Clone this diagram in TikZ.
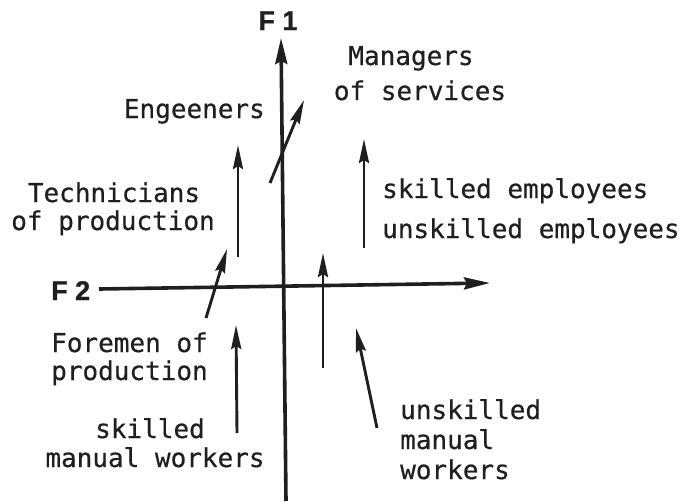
\documentclass[tikz,border=0pt]{standalone}
\usepackage{fontspec}
\newfontfamily\typew[FakeBold=0.5]{DejaVu Sans Mono}
\newfontfamily\axfont[FakeBold=1]{Liberation Sans}
\usetikzlibrary{arrows.meta}
\begin{document}
\begin{tikzpicture}[x=1pt,y=-1pt,
  lbl/.style={font=\typew\fontsize{26}{26}\selectfont, inner sep=0pt, text=black!88},
  axlbl/.style={font=\axfont\bfseries\fontsize{27}{27}\selectfont, inner sep=0pt, text=black!88},
  arr/.style={draw=black!88, line width=2.9pt, -{Stealth[length=24pt,width=10pt,inset=3pt]}},
  axis/.style={draw=black!88, line width=3.6pt},
  axarr/.style={axis, -{Stealth[length=26pt,width=12pt,inset=3pt]}}]
\useasboundingbox (0,0) rectangle (684,501);
% labels
\node[lbl,anchor=base east] (eng) at (265,118) {Engeeners};
\node[lbl,anchor=base] (tech1) at (114,202) {Technicians};
\node[lbl,anchor=base] (tech2) at (113,230) {of production};
\node[lbl,anchor=base] (man1) at (411,65) {Managers};
\node[lbl,anchor=base] (man2) at (420,100) {of services};
\node[lbl,anchor=base west] (emp1) at (382,198) {skilled employees};
\node[lbl,anchor=base west] (emp2) at (382,238) {unskilled employees};
\node[lbl,anchor=base west] (fore1) at (51,352) {Foremen of};
\node[lbl,anchor=base west] (fore2) at (51,380) {production};
\node[lbl,anchor=base] (smw1) at (150,438) {skilled};
\node[lbl,anchor=base] (smw2) at (155,467) {manual workers};
\node[lbl,anchor=base west] (umw1) at (400,419) {unskilled};
\node[lbl,anchor=base west] (umw2) at (400,449) {manual};
\node[lbl,anchor=base west] (umw3) at (400,479) {workers};
% axis labels
\node[axlbl,anchor=base] (f1) at (278,30) {F 1};
\node[axlbl,anchor=base west] (f2) at (51,300) {F 2};
% axes
\coordinate (f1bot) at (286,501);
\coordinate (f1top) at (281,38);
\coordinate (f2left) at (99,289);
\coordinate (f2right) at (490,283);
\draw[axarr] (f1bot) -- (f1top);
\draw[axarr] (f2left) -- (f2right);
% arrows
\coordinate (a1s) at (238,257); \coordinate (a1e) at (238,145);
\coordinate (a2s) at (270,183); \coordinate (a2e) at (304,100);
\coordinate (a3s) at (364,248); \coordinate (a3e) at (364,139);
\coordinate (a4s) at (206,318); \coordinate (a4e) at (227,249);
\coordinate (a5s) at (323,368); \coordinate (a5e) at (323,253);
\coordinate (a6s) at (237,433); \coordinate (a6e) at (236,325);
\coordinate (a7s) at (377,428); \coordinate (a7e) at (356,328);
\draw[arr] (a1s) -- (a1e);
\draw[arr] (a2s) -- (a2e);
\draw[arr] (a3s) -- (a3e);
\draw[arr] (a4s) -- (a4e);
\draw[arr] (a5s) -- (a5e);
\draw[arr] (a6s) -- (a6e);
\draw[arr] (a7s) -- (a7e);
\end{tikzpicture}
\end{document}
